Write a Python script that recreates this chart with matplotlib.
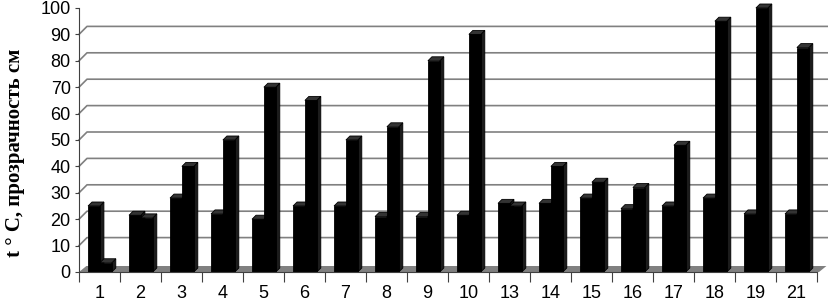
import matplotlib.pyplot as plt
from matplotlib.patches import Polygon
import numpy as np

categories = ['1', '2', '3', '4', '5', '6', '7', '8', '9', '10',
              '13', '14', '15', '16', '17', '18', '19', '21']
temp = [25, 21.5, 28, 22, 20, 25, 25, 21, 21, 21.5,
        26, 26, 28, 24, 25, 28, 22, 22]
clarity = [3.5, 20.5, 40, 50, 70, 65, 50, 55, 80, 90,
           25, 40, 34, 32, 48, 95, 100, 85]
yticks = list(range(0, 101, 10))

W, H = 829, 303
fig = plt.figure(figsize=(W / 100, H / 100), dpi=100)
# front plane of the pseudo-3D plot area, in pixels
x0, x1, y0, y1 = 79, 817, 272, 8
ax = fig.add_axes([x0 / W, (H - y0) / H, (x1 - x0) / W, (y0 - y1) / H])
n = len(categories)
ax.set_xlim(0, n)
ax.set_ylim(0, 100)

pxx = (x1 - x0) / n          # pixels per category
pxy = (y0 - y1) / 100.0      # pixels per unit
DX, DY = 8 / pxx, 8 / pxy    # wall depth
bdx, bdy = 4 / pxx, 4 / pxy  # bar depth

# back wall gridlines
xr = (W - x0) / pxx
for v in yticks[1:-1]:
    ax.plot([0, DX, xr], [v, v + DY, v + DY], color='#808080', lw=1.2,
            clip_on=False, zorder=1)

# floor
ax.add_patch(Polygon([(0, 0), (n + 0.05, 0), (n + 0.05 + 0.18, 6 / pxy), (0.18, 6 / pxy)],
                     closed=True, facecolor='#808080', edgecolor='none',
                     clip_on=False, zorder=2))


def bar3d(xl, w, h):
    xr_ = xl + w
    side = Polygon([(xr_, 0), (xr_ + bdx, bdy), (xr_ + bdx, h + bdy), (xr_, h)],
                   closed=True, facecolor='#1c1c1c', edgecolor='black', lw=0.6,
                   clip_on=False, zorder=3)
    top = Polygon([(xl, h), (xr_, h), (xr_ + bdx, h + bdy), (xl + bdx, h + bdy)],
                  closed=True, facecolor='#333333', edgecolor='black', lw=0.6,
                  clip_on=False, zorder=3)
    ax.add_patch(side)
    ax.add_patch(top)
    ax.bar(xl, h, width=w, align='edge', color='black', edgecolor='black',
           lw=0.6, zorder=3, clip_on=False)


for i in range(n):
    bar3d(i + 0.22, 0.29, temp[i])
    bar3d(i + 0.51, 0.29, clarity[i])

# axes
for s in ['top', 'right']:
    ax.spines[s].set_visible(False)
ax.spines['left'].set_color('#404040')
ax.spines['bottom'].set_color('#404040')
ax.spines['left'].set_zorder(5)
ax.spines['bottom'].set_zorder(5)

ax.set_yticks(yticks)
ax.set_yticklabels([str(v) for v in yticks])
ax.tick_params(axis='y', length=3, width=0.8, color='#404040', pad=3,
               labelsize=13)
for t in ax.get_yticklabels():
    t.set_fontfamily('Liberation Sans')

ax.set_xticks(np.arange(n) + 0.5)
ax.set_xticklabels(categories)
ax.set_xticks(np.arange(n + 1), minor=True)
ax.tick_params(axis='x', which='major', length=0, pad=9.5, labelsize=13)
ax.tick_params(axis='x', which='minor', length=7, width=0.8, color='#404040')
for t in ax.get_xticklabels():
    t.set_fontfamily('Liberation Sans')

fig.text(15 / W, 1 - 153 / H, 't \u00b0 C, прозрачность см', rotation=90,
         ha='center', va='center', fontsize=15, fontweight='bold',
         family='Liberation Serif')

fig.savefig('out.png', dpi=100)
